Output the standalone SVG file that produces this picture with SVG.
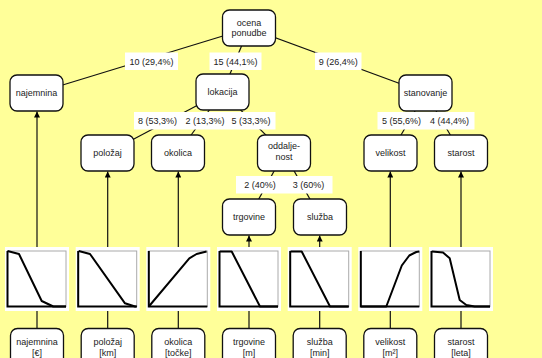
<svg xmlns="http://www.w3.org/2000/svg" width="542" height="358" viewBox="0 0 542 358">
<defs>
<marker id="arr" viewBox="0 0 10 10" refX="10" refY="5" markerWidth="6" markerHeight="6" markerUnits="userSpaceOnUse" orient="auto">
<path d="M0,0 L10,5 L0,10 z" fill="#000"/>
</marker>
<style>
.bg{fill:#FFFF99}
.node rect{fill:#fff;stroke:#111;stroke-width:1.3}
text{font-family:"Liberation Sans",Arial,sans-serif;font-size:9px;fill:#222;text-anchor:middle}
.edge{stroke:#111;stroke-width:1.2;fill:none}
.up{stroke:#111;stroke-width:1.2;fill:none;marker-end:url(#arr)}
.lbl{fill:#fff}
.frame{fill:#fff}
.box{fill:#fff;stroke:#aaa;stroke-width:1}
.axis{stroke:#000;stroke-width:2;fill:none}
.curve{stroke:#000;stroke-width:2;fill:none;stroke-linejoin:round}
</style>
</defs>
<rect class="bg" x="0" y="0" width="542" height="358"/>

<g id="connectors">
<line class="edge" x1="249" y1="28" x2="36.5" y2="93"/>
<line class="edge" x1="249" y1="28" x2="222.5" y2="92"/>
<line class="edge" x1="249" y1="28" x2="425.5" y2="93"/>
<line class="edge" x1="222.5" y1="92" x2="107.5" y2="153"/>
<line class="edge" x1="222.5" y1="92" x2="178" y2="153"/>
<line class="edge" x1="222.5" y1="92" x2="284" y2="153"/>
<line class="edge" x1="425.5" y1="93" x2="390.5" y2="153"/>
<line class="edge" x1="425.5" y1="93" x2="461" y2="153"/>
<line class="edge" x1="284" y1="153" x2="249" y2="217"/>
<line class="edge" x1="284" y1="153" x2="320" y2="217"/>

<line class="up" x1="37" y1="247" x2="37" y2="111.5"/>
<line class="up" x1="107.7" y1="247" x2="107.7" y2="171.5"/>
<line class="up" x1="178.3" y1="247" x2="178.3" y2="171.5"/>
<line class="up" x1="249" y1="247" x2="249" y2="235.5"/>
<line class="up" x1="319.7" y1="247" x2="319.7" y2="235.5"/>
<line class="up" x1="390.3" y1="247" x2="390.3" y2="171.5"/>
<line class="up" x1="461" y1="247" x2="461" y2="171.5"/>

<line class="edge" x1="37" y1="311" x2="37" y2="329"/>
<line class="edge" x1="107.7" y1="311" x2="107.7" y2="329"/>
<line class="edge" x1="178.3" y1="311" x2="178.3" y2="329"/>
<line class="edge" x1="249" y1="311" x2="249" y2="329"/>
<line class="edge" x1="319.7" y1="311" x2="319.7" y2="329"/>
<line class="edge" x1="390.3" y1="311" x2="390.3" y2="329"/>
<line class="edge" x1="461" y1="311" x2="461" y2="329"/>

<rect class="lbl" x="125" y="52.5" width="53" height="17.5"/>
<text x="151.5" y="64.5">10 (29,4%)</text>
<rect class="lbl" x="209.5" y="52.5" width="52" height="17.5"/>
<text x="235.5" y="64.5">15 (44,1%)</text>
<rect class="lbl" x="315" y="52.5" width="46.5" height="17.5"/>
<text x="338.3" y="64.5">9 (26,4%)</text>

<rect class="lbl" x="134" y="112" width="141.5" height="17.5"/>
<text x="157.5" y="124">8 (53,3%)</text>
<text x="205" y="124">2 (13,3%)</text>
<text x="251" y="124">5 (33,3%)</text>
<rect class="lbl" x="377.5" y="112" width="97" height="17.5"/>
<text x="401.5" y="124">5 (55,6%)</text>
<text x="449.6" y="124">4 (44,4%)</text>

<rect class="lbl" x="236" y="176" width="96.5" height="17.5"/>
<text x="260" y="188">2 (40%)</text>
<text x="308.5" y="188">3 (60%)</text>
</g>

<g id="n-ocena" class="node"><rect x="222.5" y="10" width="53" height="36" rx="7"/><text x="249" y="26.3">ocena</text><text x="249" y="36.3">ponudbe</text></g>
<g id="n-najemnina" class="node"><rect x="10" y="75" width="53" height="36" rx="7"/><text x="36.5" y="96.2">najemnina</text></g>
<g id="n-lokacija" class="node"><rect x="196" y="74" width="53" height="36" rx="7"/><text x="222.5" y="95.2">lokacija</text></g>
<g id="n-stanovanje" class="node"><rect x="399" y="75" width="53" height="36" rx="7"/><text x="425.5" y="96.2">stanovanje</text></g>
<g id="n-polozaj" class="node"><rect x="81" y="135" width="53" height="36" rx="7"/><text x="107.5" y="156.2">položaj</text></g>
<g id="n-okolica" class="node"><rect x="151.5" y="135" width="53" height="36" rx="7"/><text x="178" y="156.2">okolica</text></g>
<g id="n-oddaljenost" class="node"><rect x="257.5" y="135" width="53" height="36" rx="7"/><text x="284" y="149">oddalje-</text><text x="284" y="159.7">nost</text></g>
<g id="n-velikost" class="node"><rect x="364" y="135" width="53" height="36" rx="7"/><text x="390.5" y="156.2">velikost</text></g>
<g id="n-starost" class="node"><rect x="434.5" y="135" width="53" height="36" rx="7"/><text x="461" y="156.2">starost</text></g>
<g id="n-trgovine" class="node"><rect x="222.5" y="199" width="53" height="36" rx="7"/><text x="249" y="220.2">trgovine</text></g>
<g id="n-sluzba" class="node"><rect x="293.5" y="199" width="53" height="36" rx="7"/><text x="320" y="220.2">služba</text></g>

<g id="chart-najemnina" transform="translate(5,0)"><rect class="frame" x="0" y="247" width="64" height="64"/><rect class="box" x="2.5" y="251" width="58.5" height="55.5"/><path class="axis" d="M2.5,251 V306.5 H61"/><path class="curve" d="M2.5,251 L14,254 L36.7,301 L48.3,306.5 L61,306.5"/></g>
<g id="chart-polozaj" transform="translate(75.7,0)"><rect class="frame" x="0" y="247" width="64" height="64"/><rect class="box" x="2.5" y="251" width="58.5" height="55.5"/><path class="axis" d="M2.5,251 V306.5 H61"/><path class="curve" d="M3,251 L14.3,254 L49.3,303.3 L59.3,306.5 L61,306.5"/></g>
<g id="chart-okolica" transform="translate(146.3,0)"><rect class="frame" x="0" y="247" width="64" height="64"/><rect class="box" x="2.5" y="251" width="58.5" height="55.5"/><path class="axis" d="M2.5,251 V306.5 H61"/><path class="curve" d="M2.5,306.5 L43,258.3 L50.3,254 L60.3,251.5"/></g>
<g id="chart-trgovine" transform="translate(217,0)"><rect class="frame" x="0" y="247" width="64" height="64"/><rect class="box" x="2.5" y="251" width="58.5" height="55.5"/><path class="axis" d="M2.5,251 V306.5 H61"/><path class="curve" d="M3,251.5 L14.7,251.5 L43,306.5 L61,306.5"/></g>
<g id="chart-sluzba" transform="translate(287.7,0)"><rect class="frame" x="0" y="247" width="64" height="64"/><rect class="box" x="2.5" y="251" width="58.5" height="55.5"/><path class="axis" d="M2.5,251 V306.5 H61"/><path class="curve" d="M3,251.5 L14,251.5 L42.3,306.5 L61,306.5"/></g>
<g id="chart-velikost" transform="translate(358.3,0)"><rect class="frame" x="0" y="247" width="64" height="64"/><rect class="box" x="2.5" y="251" width="58.5" height="55.5"/><path class="axis" d="M2.5,251 V306.5 H61"/><path class="curve" d="M2.5,306.5 L28,306.5 L43.5,265.5 L51,255.5 L58,252 L61,251.5"/></g>
<g id="chart-starost" transform="translate(429,0)"><rect class="frame" x="0" y="247" width="64" height="64"/><rect class="box" x="2.5" y="251" width="58.5" height="55.5"/><path class="axis" d="M2.5,251 V306.5 H61"/><path class="curve" d="M3,251.5 L14,252.5 L20.7,258.3 L30.7,300 L37.3,305 L45.7,306.5 L61,306.5"/></g>

<g id="b-najemnina" class="node"><rect x="10.5" y="328.5" width="53" height="40" rx="7"/><text x="37" y="344.5">najemnina</text><text x="37" y="355.5">[€]</text></g>
<g id="b-polozaj" class="node"><rect x="81.2" y="328.5" width="53" height="40" rx="7"/><text x="107.7" y="344.5">položaj</text><text x="107.7" y="355.5">[km]</text></g>
<g id="b-okolica" class="node"><rect x="151.8" y="328.5" width="53" height="40" rx="7"/><text x="178.3" y="344.5">okolica</text><text x="178.3" y="355.5">[točke]</text></g>
<g id="b-trgovine" class="node"><rect x="222.5" y="328.5" width="53" height="40" rx="7"/><text x="249" y="344.5">trgovine</text><text x="249" y="355.5">[m]</text></g>
<g id="b-sluzba" class="node"><rect x="293.2" y="328.5" width="53" height="40" rx="7"/><text x="319.7" y="344.5">služba</text><text x="319.7" y="355.5">[min]</text></g>
<g id="b-velikost" class="node"><rect x="363.8" y="328.5" width="53" height="40" rx="7"/><text x="390.3" y="344.5">velikost</text><text x="390.3" y="355.5">[m²]</text></g>
<g id="b-starost" class="node"><rect x="434.5" y="328.5" width="53" height="40" rx="7"/><text x="461" y="344.5">starost</text><text x="461" y="355.5">[leta]</text></g>
</svg>
